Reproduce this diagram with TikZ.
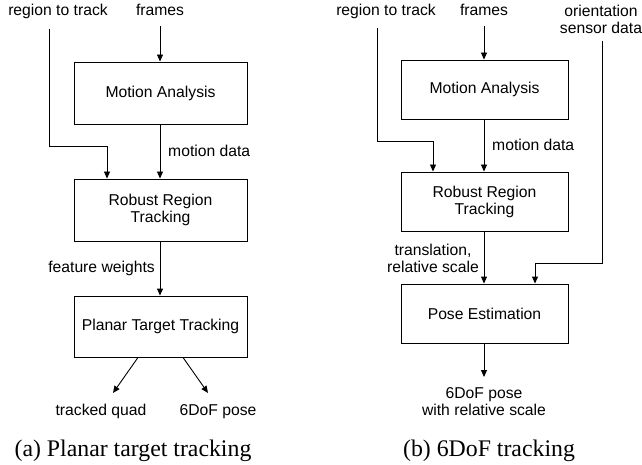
\documentclass[tikz,border=0pt]{standalone}
\usepackage{fontspec}
\setmainfont{Liberation Sans}
\newfontfamily\capfont{Liberation Serif}
\usetikzlibrary{arrows.meta}
\begin{document}
\begin{tikzpicture}[x=1pt,y=-1pt,
  lab/.style={font=\fontsize{15.7}{17}\selectfont, inner sep=0pt, anchor=base},
  mlab/.style={font=\fontsize{15.7}{17}\selectfont, inner sep=0pt, align=center},
  box/.style={draw, line width=0.9pt, minimum width=173pt, minimum height=62pt, inner sep=0pt, font=\fontsize{15.7}{17}\selectfont, align=center},
  rbox/.style={box, minimum width=167pt, minimum height=59pt},
  arr/.style={line width=0.9pt, -{Triangle[length=7pt,width=6pt]}},
  captext/.style={font=\capfont\fontsize{23.8}{28}\selectfont, inner sep=0pt, anchor=base}]
\useasboundingbox (0,0) rectangle (642,465);

% ---------- (a) ----------
\node[lab] (rt1) at (58,16) {region to track};
\node[lab] (fr1) at (160,16) {frames};
\node[box] (ma1) at (160.5,93) {Motion Analysis};
\node[box] (rr1) at (160.5,210) {Robust Region\\Tracking};
\node[box, minimum height=61pt] (pt1) at (160.5,326.5) {Planar Target Tracking};
\node[lab] (tq) at (101,415) {tracked quad};
\node[lab] (dof1) at (218,415) {6DoF pose};
\node[lab, anchor=base west] (md1) at (168,157) {motion data};
\node[lab, anchor=base east] (fw1) at (155,272) {feature weights};
\node[captext] (cap1) at (133,456) {(a) Planar target tracking};

\coordinate (fr1s) at (160,26);
\coordinate (rt1s) at (49,29);
\coordinate (rt1k) at (107,146);
\coordinate (tqs) at (138,357);
\coordinate (tqe) at (113,393);
\coordinate (dfs) at (183,357);
\coordinate (dfe) at (208,393);
\draw[arr] (fr1s) -- (fr1s |- ma1.north);
\draw[arr] (rt1s) |- (rt1k) -- (rt1k |- rr1.north);
\draw[arr] (ma1.south -| fr1s) -- (rr1.north -| fr1s);
\draw[arr] (rr1.south -| fr1s) -- (pt1.north -| fr1s);
\draw[arr] (tqs |- pt1.south) -- (tqe);
\draw[arr] (dfs |- pt1.south) -- (dfe);

% ---------- (b) ----------
\node[lab] (rt2) at (386,16) {region to track};
\node[lab] (fr2) at (484,16) {frames};
\node[mlab] (or2) at (601,19) {orientation\\sensor data};
\node[rbox] (ma2) at (484.5,89.5) {Motion Analysis};
\node[rbox] (rr2) at (484.5,201.5) {Robust Region\\Tracking};
\node[rbox] (pe2) at (484.5,313.5) {Pose Estimation};
\node[lab, anchor=base west] (md2) at (492,151) {motion data};
\node[mlab, anchor=east] (tr2) at (479,258.5) {translation,\\relative scale};
\node[mlab] (out2) at (484,401.5) {6DoF pose\\with relative scale};
\node[captext] (cap2) at (489,456) {(b) 6DoF tracking};

\coordinate (fr2s) at (484,26);
\coordinate (rt2s) at (377,28);
\coordinate (rt2k) at (433,141);
\coordinate (or2s) at (602,41);
\coordinate (or2k) at (535,263);
\coordinate (out2e) at (484,377);
\draw[arr] (fr2s) -- (fr2s |- ma2.north);
\draw[arr] (rt2s) |- (rt2k) -- (rt2k |- rr2.north);
\draw[arr] (ma2.south -| fr2s) -- (rr2.north -| fr2s);
\draw[arr] (rr2.south -| fr2s) -- (pe2.north -| fr2s);
\draw[arr] (or2s) |- (or2k) -- (or2k |- pe2.north);
\draw[arr] (pe2.south -| fr2s) -- (out2e);
\end{tikzpicture}
\end{document}
